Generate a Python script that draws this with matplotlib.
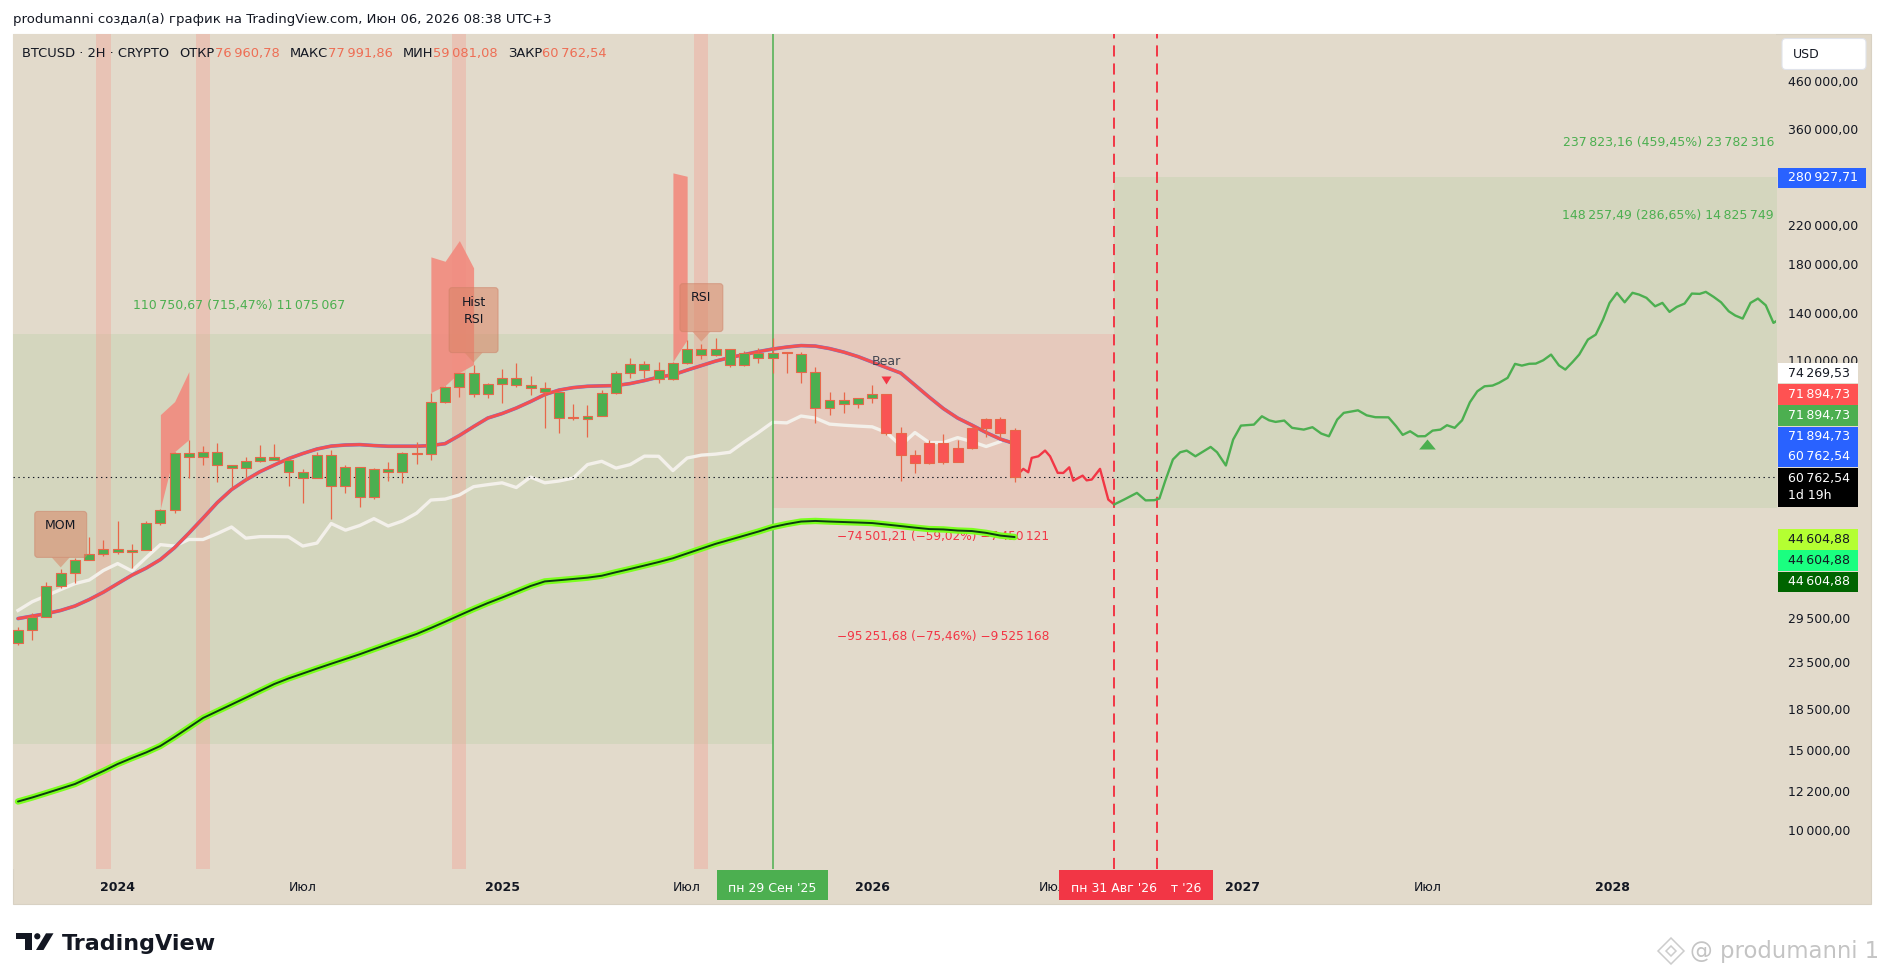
import matplotlib
matplotlib.use("Agg")
import matplotlib.pyplot as plt
import numpy as np
from matplotlib.patches import Rectangle, Polygon, FancyBboxPatch, Circle
from matplotlib.ticker import NullLocator

plt.rcParams['font.family'] = ['DejaVu Sans']
plt.rcParams['lines.scale_dashes'] = False

# 2-week BTCUSD candles, bar 0 = 18 Sep 2023, bar 53 = 29 Sep 2025
opens = [26000, 27800, 29700, 34800, 37200, 39750, 41000, 42050, 41400, 41850,
         48000, 51300, 68700, 67000, 69000, 64300, 63600, 65900, 67300, 66300,
         62300, 60450, 68000, 58000, 63950, 54600, 63300, 62300, 68700, 68350,
         89150, 96250, 103400, 92850, 97750, 100800, 96900, 95750, 93850, 81900,
         81700, 83000, 93350, 103400, 108250, 105000, 100250, 108800, 116900, 113350,
         116900, 107700, 114500, 111650, 114500, 113950, 103900, 86450, 90050, 88250,
         91000, 92850, 76100, 68000, 65250, 72300, 65600, 70450, 78050, 81700,
         76960.78]
highs = [28200, 30200, 35500, 37800, 40150, 44500, 44000, 48500, 43150, 48300,
         51600, 69000, 73400, 71200, 72300, 64600, 67300, 71550, 71900, 67000,
         63000, 69000, 69750, 64600, 63950, 63600, 65600, 69000, 72650, 93350,
         96750, 103400, 107700, 98250, 105500, 108800, 101800, 98750, 93850, 88250,
         87800, 94800, 104450, 111650, 109950, 109400, 109400, 122400, 119900, 123650,
         116900, 115700, 117500, 123650, 115100, 115100, 106600, 93850, 93850, 91000,
         97250, 92850, 78450, 69750, 73400, 75700, 73400, 78450, 82150, 82550,
         77991.86]
lows = [25700, 26400, 29700, 34450, 35300, 39750, 40400, 40800, 38150, 41850,
        47550, 50550, 60450, 64300, 59200, 57700, 59800, 65600, 66300, 58000,
        53200, 60450, 49000, 56000, 52100, 54300, 59500, 58900, 64950, 66300,
        88700, 91450, 91450, 91000, 88700, 96250, 92400, 78050, 76100, 81300,
        74550, 83000, 92850, 100800, 100800, 98250, 99750, 108250, 111050, 112800,
        106600, 107150, 108800, 103400, 103400, 98250, 80100, 83400, 84250, 86450,
        88700, 75300, 59500, 62000, 64950, 64950, 65600, 70100, 74550, 74150,
        59081.08]
closes = [27800, 29700, 34800, 37200, 39750, 41000, 42050, 41400, 41850, 48000,
          51300, 68700, 67000, 69000, 64300, 63600, 65900, 67300, 66300, 62300,
          60450, 68000, 58000, 63950, 54600, 63300, 62300, 68700, 68350, 89150,
          96250, 103400, 92850, 97750, 100800, 97250, 95750, 93850, 82150, 82400,
          83000, 93350, 103400, 108250, 105000, 100250, 108800, 116900, 113350, 116900,
          107700, 114500, 111650, 114500, 114700, 103900, 86450, 90050, 88250, 91000,
          92850, 76100, 68000, 65250, 72300, 65600, 70450, 78050, 81700, 76100,
          60762.54]
bear_from = 61  # bars from here on are painted red

# indicator lines, one value per bar
ma_fast = [29400, 29780, 30150, 30650, 31350, 32400, 33650, 35150, 36700, 38050,
           39750, 42250, 45500, 49150, 53200, 56850, 59700, 62300, 64450, 66600,
           68350, 69950, 71000, 71400, 71550, 71200, 70950, 70950, 70950, 71200,
           71900, 74950, 78450, 81950, 83850, 86250, 89150, 92400, 94550, 95750,
           96400, 96600, 96750, 97750, 99250, 101050, 102200, 104700, 107150, 109650,
           111650, 113350, 115100, 116600, 117800, 118700, 118400, 116900, 114800, 112200,
           109100, 106050, 103150, 97000, 91200, 86000, 81950, 79050, 76100, 73600,
           71894.73]
ma_white = [30650, 32050, 33050, 34100, 35150, 35800, 37600, 38950, 37500, 40150,
            42900, 42600, 44050, 44050, 45400, 46950, 44350, 44700, 44700, 44650,
            42600, 43250, 47800, 46200, 47300, 49000, 47200, 48400, 50400, 53900,
            54150, 55300, 57700, 58300, 58850, 57450, 60600, 58850, 59400, 60300,
            64600, 65700, 63450, 64600, 67450, 67400, 62650, 66800, 67800, 68150,
            68800, 72500, 76100, 80200, 79950, 82800, 81950, 79450, 79000, 78650,
            78350, 76100, 71200, 76100, 72300, 72300, 74150, 72650, 70850, 72650]
ma_slow = [11540, 11780, 12050, 12330, 12620, 13050, 13490, 13980, 14410, 14830,
           15330, 16050, 16850, 17690, 18310, 18950, 19620, 20320, 21040, 21650,
           22200, 22770, 23340, 23910, 24500, 25150, 25810, 26490, 27180, 28020,
           28930, 29890, 30870, 31830, 32740, 33710, 34720, 35550, 35770, 36000,
           36240, 36600, 37260, 37890, 38560, 39250, 40020, 41020, 42040, 43080,
           43990, 44920, 45870, 46940, 47670, 48280, 48430, 48280, 48160, 48040,
           47910, 47550, 47180, 46800, 46460, 46370, 46110, 45990, 45570, 44940,
           44604.88]

# projected path (bar index, price)
proj_red_x = [70.0, 70.33, 70.61, 70.96, 71.2, 71.67, 72.14, 72.49, 73.03, 73.42,
              73.84, 74.12, 74.78, 75.06, 75.42, 76.0, 76.58, 77.0]
proj_red_y = [60762.54, 61920, 63200, 62110, 66850, 67400, 69400, 67400, 61920, 61900,
              63700, 59500, 61050, 59600, 59850, 63200, 54020, 52700]
proj_green_x = [77.0, 77.68, 78.59, 79.2, 79.81, 80.17, 80.57, 81.12, 81.63, 82.09,
                82.7, 83.77, 84.22, 84.84, 85.35, 85.9, 86.81, 87.37, 87.88, 88.33,
                88.94, 89.49, 90.31, 90.92, 91.54, 92.08, 92.66, 93.12, 94.12, 94.73,
                95.34, 96.26, 96.8, 97.26, 97.78, 98.33, 98.84, 99.36, 99.91, 100.37,
                100.91, 101.43, 101.98, 102.5, 103.01, 103.57, 104.02, 104.63, 105.15, 105.63,
                106.15, 106.61, 107.13, 107.68, 108.23, 108.68, 109.2, 109.66, 110.27, 110.82,
                111.33, 111.79, 112.31, 112.85, 113.4, 113.86, 114.38, 114.99, 115.5, 116.0,
                116.51, 117.06, 117.57, 118.12, 118.55, 119.1, 119.62, 120.16, 120.62, 121.14,
                121.69, 122.21, 122.76, 123.3, 123.76]
proj_green_y = [52700, 54000, 55900, 53800, 53850, 54300, 59300, 66300, 68800, 69400,
                67400, 70700, 68800, 64300, 73400, 78850, 79250, 82700, 81000, 80350,
                80900, 77950, 77250, 78200, 75700, 74650, 81300, 84150, 85250, 83100,
                82300, 82250, 78600, 75200, 76600, 74650, 74700, 76850, 77250, 79000,
                77950, 81000, 88850, 93950, 96400, 96750, 98100, 100650, 108100, 107150,
                108150, 108250, 110100, 113350, 107300, 105000, 109200, 113400, 122400, 125550,
                135600, 147650, 155400, 148100, 155450, 154050, 151500, 145100, 147650, 141000,
                144650, 147150, 154850, 154600, 156200, 152250, 148100, 141450, 138400, 136250,
                147650, 150950, 145850, 133300, 136050]

# highlighted bars and the spikes above them
signal_bars = [6, 13, 31, 48]
flame_bars = [[10, 11, 12], [29, 30, 31, 32], [46, 47]]
flame_tops = [[83400, 89150, 103900], [186800, 182650, 203050, 176600], [287000, 282050]]

# long / short position zones: bar from, bar to, low price, high price
zone_x0 = [-2, 53, 77]
zone_x1 = [53, 77, 130]
zone_lo = [15479, 51730, 51763]
zone_hi = [126231, 126231, 280927.71]
pos_stats = [(110750.67, 715.47, 11075067), (237823.16, 459.45, 23782316),
             (148257.49, 286.65, 14825749), (-74501.21, -59.02, -7450121),
             (-95251.68, -75.46, -9525168)]

# visible price scale marks (the rest sit behind the value tags)
price_ticks = [10000, 12200, 15000, 18500, 23500, 29500, 110000, 140000, 180000,
               220000, 360000, 460000]
time_labels = ["2024", "Июл", "2025", "Июл", "2026", "Июл", "2027", "Июл", "2028"]
time_label_bars = [7, 20, 34, 47, 60, 72.7, 86, 99, 112]
axis_tag_values = [280927.71, 74269.53, 71894.73, 71894.73, 71894.73, 60762.54,
                   60762.54, 44604.88, 44604.88, 44604.88]

BG = "#e2dacb"
GREEN_ZONE = "#d4d6be"
PINK_ZONE = "#e6c9bc"
TEXT = "#131722"
GREEN = "#4caf50"
RED = "#f23645"
BLUE = "#2962ff"
EDGE = "#e8674a"
CORAL = "#ee6e55"

W, H = 1885, 980


def tv_fmt(v, dec=2):
    s = f"{abs(v):,.{dec}f}".replace(",", "\u2009").replace(".", ",")
    return ("\u2212" if v < 0 else "") + s


fig = plt.figure(figsize=(W / 100, H / 100), dpi=100, facecolor="white")
fig.patches.append(Rectangle((13.4 / W, 1 - 904 / H), (1871 - 13.4) / W, (904 - 34) / H,
                             transform=fig.transFigure, facecolor=BG, edgecolor="#d8d1c3",
                             lw=0.8, zorder=-1))

ax = fig.add_axes([13.4 / W, 1 - 869 / H, (1776 - 13.4) / W, (869 - 34) / H])
ax.set_facecolor(BG)
ax.set_yscale("log")
ax.set_xlim(-0.323, 123.48)
ax.set_ylim(8173, 583700)
for s in ax.spines.values():
    s.set_visible(False)

ax.yaxis.tick_right()
ax.set_yticks(price_ticks)
ax.set_yticklabels([tv_fmt(v) for v in price_ticks])
ax.yaxis.set_minor_locator(NullLocator())
ax.tick_params(axis="y", length=0, pad=8.6, labelsize=9, labelcolor=TEXT)
ax.set_xticks(time_label_bars)
ax.set_xticklabels(time_labels)
ax.tick_params(axis="x", length=0, pad=8.6, labelsize=9, labelcolor=TEXT)
for lbl in ax.get_xticklabels():
    if lbl.get_text().isdigit():
        lbl.set_fontweight("bold")

# position zones
zone_cols = [GREEN_ZONE, PINK_ZONE, GREEN_ZONE]
for x0, x1, lo, hi, col in zip(zone_x0, zone_x1, zone_lo, zone_hi, zone_cols):
    ax.fill_between([x0, x1], lo, hi, color=col, lw=0, zorder=1)

# highlighted bar columns
for b in signal_bars:
    ax.axvspan(b - 0.5, b + 0.5, color="#f2a093", alpha=0.38, lw=0, zorder=2)

for bars, tops in zip(flame_bars, flame_tops):
    ax.fill_between(bars, [highs[b] for b in bars], tops, color="#f28a7e", alpha=0.9,
                    lw=0, zorder=2.5)

# position tool labels
pos_place = [(15.5, 145600, "center"), (123.34, 335100, "right"), (123.34, 230700, "right"),
             (65, 44780, "center"), (65, 26780, "center")]
for (d, p, q), (bx, py, ha) in zip(pos_stats, pos_place):
    ax.text(bx, py, f"{tv_fmt(d)} ({tv_fmt(p)}%) {tv_fmt(q, 0)}", ha=ha, va="center",
            fontsize=9 if d > 0 else 8.7, color=GREEN if d > 0 else RED, zorder=3)

idx = np.arange(len(opens))

# indicators
ax.plot(np.arange(len(ma_white)), ma_white, color="#f3f0ea", lw=2.4, zorder=4,
        solid_joinstyle="round")
ax.axhline(closes[-1], color=TEXT, lw=0.8, ls=(0, (1, 2.5)), zorder=4.2)
ax.axvline(53, color=GREEN, lw=1.1, zorder=4.5)
for b in (77, 80):
    ax.axvline(b, color=RED, lw=1.4, ls=(0, (8, 5)), zorder=4.5)
ax.plot(np.arange(len(ma_fast)), ma_fast, color="#5b7fe8", lw=2.6, zorder=5,
        solid_capstyle="round")
ax.plot(np.arange(len(ma_fast)), ma_fast, color="#f5504f", lw=2.2, zorder=5.1,
        solid_capstyle="round")
ax.plot(idx, ma_slow, color="#7cff1e", lw=4.6, zorder=5, solid_capstyle="round")
ax.plot(idx, ma_slow, color="#0d3b12", lw=1.4, zorder=5.1, solid_capstyle="round")
ax.plot(proj_red_x, proj_red_y, color=RED, lw=1.7, zorder=5, solid_joinstyle="round")
ax.plot(proj_green_x, proj_green_y, color=GREEN, lw=1.7, zorder=5, solid_joinstyle="round")

# candles
o, h, l, c = (np.array(a, dtype=float) for a in (opens, highs, lows, closes))
body_lo = np.minimum(o, c)
body_hi = np.maximum(np.maximum(o, c), body_lo * 1.002)
body_col = np.where(idx >= bear_from, "#f95454", GREEN)
ax.vlines(idx, l, h, color=EDGE, lw=0.9, zorder=6)
ax.bar(idx, body_hi - body_lo, bottom=body_lo, width=0.7, color=body_col,
       edgecolor=EDGE, linewidth=0.8, zorder=6.5)

# signal markers
ax.plot([61], [99750], marker=[(-1, 0.8), (1, 0.8), (0, -0.8)], ms=7.2, color=RED,
        mew=0, zorder=7)
ax.text(61, 109400, "Bear", ha="center", va="center", fontsize=9, color="#434651", zorder=7)
ax.plot([99], [71700], marker=[(-1, -0.6), (1, -0.6), (0, 0.6)], ms=12, color=GREEN,
        mew=0, zorder=7)

# ---- pixel overlay for TradingView furniture ----
ov = fig.add_axes([0, 0, 1, 1])
ov.set_xlim(0, W)
ov.set_ylim(H, 0)
ov.axis("off")
ov.set_zorder(5)
ov.patch.set_visible(False)


def to_px(x, y):
    dx, dy = ax.transData.transform((x, y))
    return dx, H - dy


# indicator tags above bars
TAG_FC = (0.85, 0.52, 0.40, 0.55)
for bar, txt, w, hgt in [(3, "MOM", 52, 46), (32, "Hist\nRSI", 49, 65), (48, "RSI", 43, 48)]:
    tx, ty = to_px(bar, highs[bar])
    ty -= 2
    bottom = ty - 10
    top = bottom - hgt
    ov.add_patch(FancyBboxPatch((tx - w / 2, top), w, hgt,
                                boxstyle="round,pad=0,rounding_size=3",
                                fc=TAG_FC, ec=(0.80, 0.50, 0.40, 0.5), lw=0.8))
    ov.add_patch(Polygon([(tx - 9, bottom), (tx + 9, bottom), (tx, ty)], closed=True,
                         fc=TAG_FC, lw=0))
    n = txt.count("\n") + 1
    ov.text(tx, top + 14 + 9.5 * (n - 1), txt, ha="center", va="center", fontsize=9,
            color=TEXT, linespacing=1.45)

# price scale tags
tag_rows = [(168, 188, BLUE, "white", 1866), (362.7, 383.5, "white", TEXT, 1858),
            (384, 404.5, "#ff5252", "white", 1858), (405, 425.5, GREEN, "white", 1858),
            (426.5, 446.8, BLUE, "white", 1858), (446.5, 467, BLUE, "white", 1858),
            (468, 507, "black", "white", 1858), (529, 550, "#b4ff32", TEXT, 1858),
            (550, 571, "#1aff80", TEXT, 1858), (571.5, 592, "#006400", "white", 1858)]
for k, (val, (t0, t1, fc, tc, x1)) in enumerate(zip(axis_tag_values, tag_rows)):
    ov.add_patch(Rectangle((1778, t0), x1 - 1778, t1 - t0, fc=fc, lw=0, zorder=10 + k))
    if t1 - t0 > 30:
        ov.text(1788, t0 + 10, tv_fmt(val), ha="left", va="center", fontsize=9, color=tc,
                zorder=30)
        ov.text(1788, t0 + 27, "1d 19h", ha="left", va="center", fontsize=9, color=tc,
                zorder=30)
    else:
        ov.text(1788, (t0 + t1) / 2, tv_fmt(val), ha="left", va="center", fontsize=9,
                color=tc, zorder=30)

ov.add_patch(FancyBboxPatch((1782, 38.5), 84, 31, boxstyle="round,pad=0,rounding_size=4",
                            fc="white", ec="#e0e3eb", lw=0.8))
ov.text(1793, 54, "USD", ha="left", va="center", fontsize=9, color=TEXT)

# time scale date tags, later ones stacked on top of earlier ones
for k, (bar, txt, col) in enumerate([(80, "пн 12 Окт '26", RED), (77, "пн 31 Авг '26", RED),
                                     (53, "пн 29 Сен '25", GREEN)]):
    px, _ = to_px(bar, 10000)
    ov.add_patch(Rectangle((px - 55.75, 870), 111.5, 30, fc=col, lw=0, zorder=40 + 2 * k))
    ov.text(px, 888, txt, ha="center", va="center", fontsize=9, color="white",
            zorder=41 + 2 * k)

# header and symbol legend
ov.text(13, 20, "produmanni создал(а) график на TradingView.com, Июн 06, 2026 08:38 UTC+3",
        ha="left", va="center", fontsize=9.5, color=TEXT)
renderer = fig.canvas.get_renderer()
segments = [("BTCUSD · 2H · CRYPTO", TEXT, 10), ("ОТКР", TEXT, 0), (tv_fmt(opens[-1]), CORAL, 10),
            ("МАКС", TEXT, 0), (tv_fmt(highs[-1]), CORAL, 10), ("МИН", TEXT, 0),
            (tv_fmt(lows[-1]), CORAL, 10), ("ЗАКР", TEXT, 0), (tv_fmt(closes[-1]), CORAL, 0)]
lx = 22.3
for txt, col, gap in segments:
    t = ov.text(lx, 53.3, txt, ha="left", va="center", fontsize=9.4, color=col)
    lx += t.get_window_extent(renderer).width + gap

# TradingView logo
ov.add_patch(Rectangle((15.7, 933.3), 16, 5.7, fc=TEXT, lw=0))
ov.add_patch(Rectangle((25, 933.3), 6.7, 16.7, fc=TEXT, lw=0))
ov.add_patch(Circle((37.3, 936.3), 3.1, fc=TEXT, lw=0))
ov.add_patch(Polygon([(46, 933.3), (53.5, 933.3), (43.5, 950), (36, 950)], closed=True,
                     fc=TEXT, lw=0))
ov.text(62, 950, "TradingView", ha="left", va="baseline", fontsize=16, fontweight="bold",
        color=TEXT)

# author watermark
ov.add_patch(Polygon([(1671, 938), (1684, 951), (1671, 964), (1658, 951)], closed=True,
                     fill=False, ec="#cccccc", lw=1.1))
ov.add_patch(Polygon([(1671, 946), (1676, 951), (1671, 956), (1666, 951)], closed=True,
                     fill=False, ec="#cccccc", lw=1.1))
ov.text(1690, 951, "@ produmanni 1", ha="left", va="center", fontsize=16.4, color="#c4c4c4")

fig.savefig("out.png", dpi=100, facecolor="white")
